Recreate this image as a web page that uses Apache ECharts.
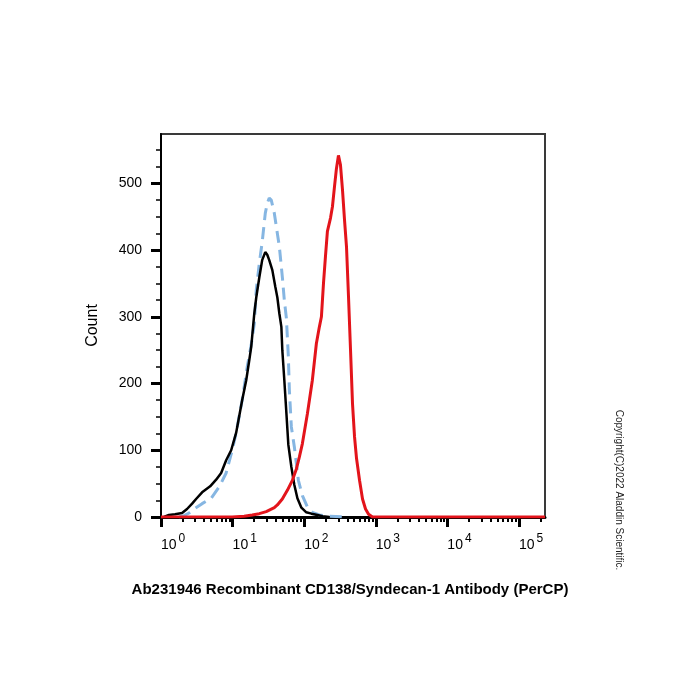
<!DOCTYPE html>
<html>
<head>
<meta charset="utf-8">
<script src="https://cdn.jsdelivr.net/npm/echarts@6/dist/echarts.min.js"></script>
<style>
  html, body { margin: 0; padding: 0; background: #fff; }
  #chart { width: 700px; height: 700px; }
</style>
</head>
<body>
<div id="chart"></div>
<script>
// histogram traces (fluorescence, count)
const controlFL = [1.10, 1.29, 1.57, 1.97, 2.31, 2.72, 3.09, 3.75, 4.86, 5.89, 6.92, 8.13, 9.55, 11.2, 13.6, 15.5, 17.1, 18.2, 20.1, 21.4, 23.6, 25.9, 28.6, 30.5, 32.5, 35.9, 39.5, 42.2, 45.0, 48.0, 49.5, 52.8, 56.4, 60.1, 66.2, 72.9, 80.4, 91.4, 107, 126, 153, 180, 225];
const controlCount = [0, 3, 4, 6, 12, 20, 27, 37, 46, 56, 66, 85, 100, 126, 175, 205, 235, 255, 305, 329, 359, 385, 397, 393, 385, 370, 345, 329, 305, 285, 250, 205, 156, 108, 75, 48, 28, 14, 7, 5, 3, 1, 0];

const isotypeFL = [1.79, 2.10, 2.47, 2.90, 3.75, 5.01, 6.49, 8.13, 9.87, 11.2, 13.6, 16.0, 18.2, 20.1, 21.4, 23.6, 25.9, 28.6, 30.5, 32.5, 34.7, 38.3, 42.2, 45.0, 49.5, 52.8, 56.4, 60.1, 62.1, 66.2, 72.9, 77.8, 83.0, 94.4, 111, 130, 163, 225, 390];
const isotypeCount = [0, 2, 6, 12, 20, 28, 45, 66, 100, 126, 175, 225, 258, 290, 340, 380, 412, 455, 470, 478, 475, 455, 425, 405, 360, 325, 298, 240, 190, 135, 105, 80, 55, 32, 15, 7, 3, 1, 0];

const antibodyFL = [1.0, 9.87, 14.5, 18.8, 23.6, 29.5, 38.3, 42.2, 49.5, 58.2, 68.4, 77.8, 85.7, 94.4, 111, 130, 148, 163, 174, 186, 198, 211, 233, 248, 265, 282, 301, 321, 343, 366, 390, 416, 444, 473, 505, 538, 593, 653, 719, 793, 902, 231000];
const antibodyCount = [0, 0, 1, 3, 5, 8, 14, 18, 27, 40, 55, 72, 90, 110, 155, 205, 260, 285, 300, 350, 390, 428, 448, 465, 495, 522, 542, 528, 490, 445, 405, 330, 250, 170, 120, 88, 55, 27, 12, 4, 0, 0];

const xMajorTicks = [1, 10, 100, 1000, 10000, 100000];
const xMinorTicks = [2, 3, 4, 5, 6, 7, 8, 9, 20, 30, 40, 50, 60, 70, 80, 90, 200, 300, 400, 500, 600, 700, 800, 900,
  2000, 3000, 4000, 5000, 6000, 7000, 8000, 9000, 20000, 30000, 40000, 50000, 60000, 70000, 80000, 90000, 200000];
const yMajorTicks = [0, 100, 200, 300, 400, 500];
const yMinorTicks = [25, 50, 75, 125, 150, 175, 225, 250, 275, 325, 350, 375, 425, 450, 475, 525, 550];

const xMin = 1, xMax = 231000, yMin = 0, yMax = 574;

const zip = (a, b) => a.map((v, i) => [v, b[i]]);
const font = 'Liberation Sans, Arial, sans-serif';

const chart = echarts.init(document.getElementById('chart'));
chart.setOption({
  animation: false,
  grid: {
    left: 161, right: 155, top: 134, bottom: 183,
    show: true, borderColor: '#3a3a3a', borderWidth: 2
  },
  title: {
    text: 'Ab231946 Recombinant CD138/Syndecan-1 Antibody (PerCP)',
    left: 'center', top: 577,
    textStyle: { fontFamily: font, fontSize: 15, fontWeight: 'bold', color: '#000' }
  },
  graphic: [{
    type: 'text', x: 619, y: 490, rotation: -Math.PI / 2,
    style: {
      text: 'Copyright(C)2022 Aladdin Scientific.',
      font: '10px ' + font, fill: '#222', align: 'center', verticalAlign: 'middle'
    }
  }],
  xAxis: [{
    type: 'log', logBase: 10, min: xMin, max: xMax,
    axisLine: { show: true, onZero: false, lineStyle: { color: '#000', width: 3 } },
    axisTick: { show: true, customValues: xMajorTicks, length: 10, lineStyle: { color: '#000', width: 3 } },
    axisLabel: {
      customValues: xMajorTicks, margin: 16, align: 'left', color: '#000',
      formatter: v => '{a|10}{b|' + Math.round(Math.log10(v)) + '}',
      rich: {
        a: { fontFamily: font, fontSize: 14, color: '#000', verticalAlign: 'bottom' },
        b: { fontFamily: font, fontSize: 12, color: '#000', verticalAlign: 'top', padding: [0, 0, 7, 2] }
      }
    },
    splitLine: { show: false }
  }, {
    type: 'log', logBase: 10, min: xMin, max: xMax, position: 'bottom',
    axisLine: { show: false },
    axisTick: { show: true, customValues: xMinorTicks, length: 5, lineStyle: { color: '#000', width: 2 } },
    axisLabel: { show: false },
    splitLine: { show: false }
  }],
  yAxis: [{
    type: 'value', min: yMin, max: yMax,
    name: 'Count', nameLocation: 'middle', nameGap: 60,
    nameTextStyle: { fontFamily: font, fontSize: 16, color: '#000' },
    axisLine: { show: true, lineStyle: { color: '#000', width: 2 } },
    axisTick: { show: true, customValues: yMajorTicks, length: 10, lineStyle: { color: '#000', width: 3 } },
    axisLabel: { customValues: yMajorTicks, margin: 19, fontFamily: font, fontSize: 14, color: '#000' },
    splitLine: { show: false }
  }, {
    type: 'value', min: yMin, max: yMax, position: 'left',
    axisLine: { show: false },
    axisTick: { show: true, customValues: yMinorTicks, length: 5, lineStyle: { color: '#000', width: 1.5 } },
    axisLabel: { show: false },
    splitLine: { show: false }
  }],
  series: [{
    name: 'isotype', type: 'line', showSymbol: false, data: zip(isotypeFL, isotypeCount),
    lineStyle: { color: '#86b6e2', width: 3, type: [12, 7] }, z: 2
  }, {
    name: 'control', type: 'line', showSymbol: false, data: zip(controlFL, controlCount),
    lineStyle: { color: '#000', width: 2.5 }, z: 3
  }, {
    name: 'antibody', type: 'line', showSymbol: false, data: zip(antibodyFL, antibodyCount),
    lineStyle: { color: '#e3141b', width: 3 }, z: 4
  }]
});
</script>
</body>
</html>
